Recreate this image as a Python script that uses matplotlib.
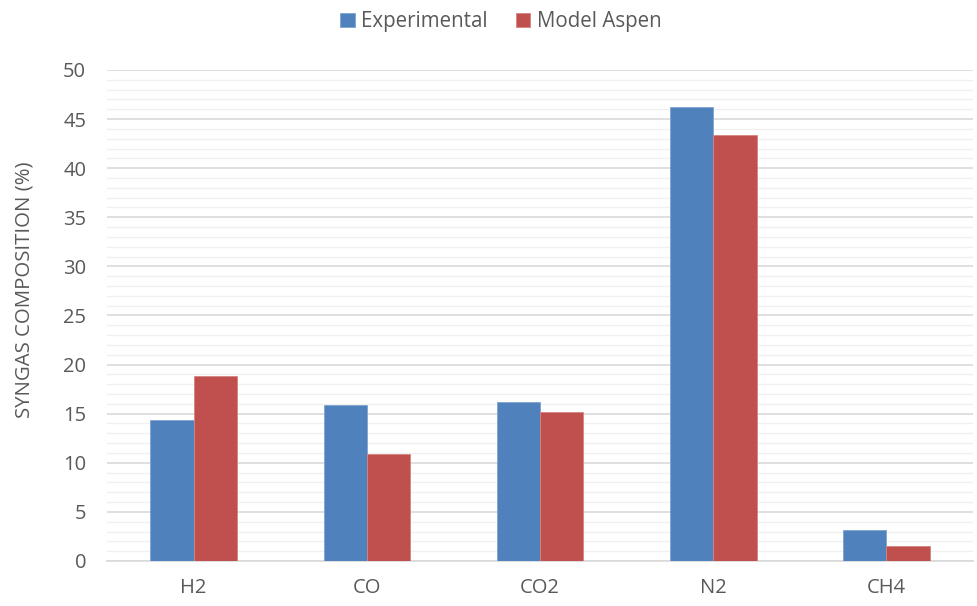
import matplotlib
matplotlib.use("Agg")
import matplotlib.pyplot as plt
import numpy as np
from matplotlib.ticker import MultipleLocator

categories = ["H2", "CO", "CO2", "N2", "CH4"]
experimental = [14.4, 15.9, 16.2, 46.2, 3.2]
model_aspen = [18.8, 10.9, 15.2, 43.4, 1.5]
y_ticks = [0, 5, 10, 15, 20, 25, 30, 35, 40, 45, 50]

plt.rcParams["font.family"] = ["Open Sans", "DejaVu Sans"]
text_color = "#595959"

fig = plt.figure(figsize=(9.78, 6.06), dpi=100)
ax = fig.add_axes([0.1094, 0.0743, 0.8856, 0.8102])

x = np.arange(len(categories))
w = 0.25
ax.bar(x - w / 2, experimental, w, color="#4F81BD", edgecolor="#7FA3D1",
       linewidth=0.6, label="Experimental", zorder=3)
ax.bar(x + w / 2, model_aspen, w, color="#C0504D", edgecolor="#D58583",
       linewidth=0.6, label="Model Aspen", zorder=3)

ax.set_xlim(-0.5, len(categories) - 0.5)
ax.set_ylim(0, 50)
ax.set_yticks(y_ticks)
ax.yaxis.set_minor_locator(MultipleLocator(1))
ax.set_xticks(x)
ax.set_xticklabels(categories)

ax.grid(axis="y", which="major", color="#D9D9D9", linewidth=1.2, zorder=0)
ax.grid(axis="y", which="minor", color="#F0F0F0", linewidth=1.0, zorder=0)
ax.set_axisbelow(True)

for s in ["top", "right", "left"]:
    ax.spines[s].set_visible(False)
ax.spines["bottom"].set_color("#D9D9D9")
ax.spines["bottom"].set_linewidth(1.2)

ax.tick_params(axis="both", which="both", length=0, labelsize=14.5,
               labelcolor=text_color)
ax.tick_params(axis="x", pad=12)
ax.tick_params(axis="y", pad=15)

ax.set_ylabel("SYNGAS COMPOSITION (%)", fontsize=14.7, color=text_color)
ax.yaxis.set_label_coords(-0.084, 0.552)

leg = fig.legend(loc="upper center", bbox_to_anchor=(0.512, 1.012), ncol=2,
                 frameon=False, fontsize=14.8, handlelength=0.72,
                 handleheight=0.72, handletextpad=0.3, columnspacing=1.35)
for t in leg.get_texts():
    t.set_color(text_color)

fig.savefig("out.png", dpi=100)
